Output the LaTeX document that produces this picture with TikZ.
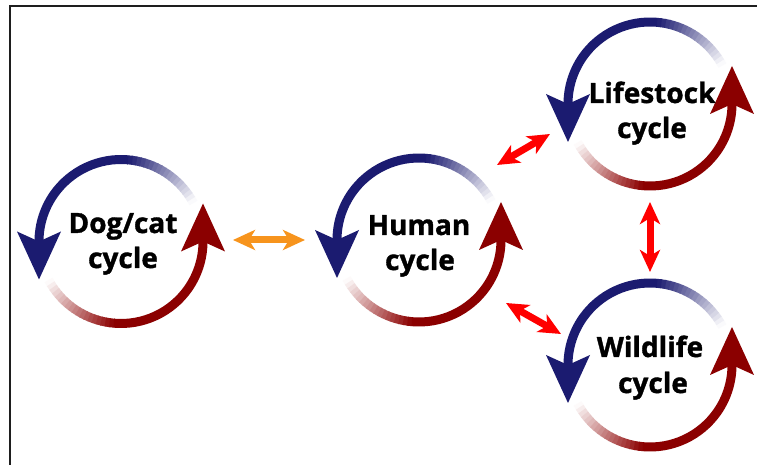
\documentclass[tikz,border=0pt]{standalone}
\usepackage{fontspec}
\setmainfont{Open Sans}[BoldFeatures={FakeBold=1.2}]
\usetikzlibrary{arrows.meta}
\definecolor{cblue}{RGB}{27,27,112}
\definecolor{cred}{RGB}{139,0,0}
\definecolor{corange}{RGB}{247,148,29}
\definecolor{cbright}{RGB}{255,0,0}
\definecolor{cborder}{RGB}{30,30,30}
\tikzset{
  ring/.style={line width=9pt, line cap=butt},
  lbl/.style={anchor=base, inner sep=0pt, font=\fontsize{28}{34}\selectfont\bfseries},
  dbl/.style={line width=7pt, {Stealth[length=22pt,width=20pt,inset=6pt]}-{Stealth[length=22pt,width=20pt,inset=6pt]}},
}
% #1,#2 centre, #3 colour, #4 start angle of the fade
\newcommand{\cyclearrow}[4]{%
  \foreach \k in {0,...,18}{%
    \pgfmathsetmacro{\sa}{#4+3*\k}%
    \pgfmathsetmacro{\ea}{#4+3*\k+3.6}%
    \pgfmathtruncatemacro{\pc}{100*(\k+0.5)/19}%
    \draw[ring, draw=#3!\pc!white, shift={(#1,#2)}] (\sa:82) arc[start angle=\sa, end angle=\ea, radius=82];
  }%
  \pgfmathsetmacro{\fa}{#4+57}%
  \pgfmathsetmacro{\fb}{#4+155}%
  \draw[ring, draw=#3, shift={(#1,#2)}] (\fa:82) arc[start angle=\fa, end angle=\fb, radius=82];
  \pgfmathsetmacro{\ha}{#4+152}%
  \fill[#3, shift={(#1,#2)}, rotate=\ha] (82,38) -- (104,-10) -- (82,0) -- (60,-10) -- cycle;
}
\begin{document}
\begin{tikzpicture}[x=1pt,y=1pt]
\useasboundingbox (0,0) rectangle (757,465);
\fill[white] (0,0) rectangle (757,465);
\draw[cborder, line width=2pt] (10,-2) -- (10,458.5) -- (760,458.5);

% centres
\coordinate (cdog) at (121,223.5);
\coordinate (chum) at (419,225);
\coordinate (clife) at (650,361);
\coordinate (cwild) at (650,100);

% cycles
\cyclearrow{121}{223.5}{cblue}{28}
\cyclearrow{121}{223.5}{cred}{208}
\cyclearrow{419}{225}{cblue}{28}
\cyclearrow{419}{225}{cred}{208}
\cyclearrow{650}{361}{cblue}{28}
\cyclearrow{650}{361}{cred}{208}
\cyclearrow{650}{100}{cblue}{28}
\cyclearrow{650}{100}{cred}{208}

% labels
\node[lbl] (dogA) at (123,232) {Dog/cat};
\node[lbl] (dogB) at (123,197) {cycle};
\node[lbl] (humA) at (419,230) {Human};
\node[lbl] (humB) at (420,195) {cycle};
\node[lbl] (lifeA) at (652,362) {Lifestock};
\node[lbl] (lifeB) at (652,327) {cycle};
\node[lbl] (wildA) at (650,108) {Wildlife};
\node[lbl] (wildB) at (653,72) {cycle};

% double arrows
\coordinate (o1) at (233,225);
\coordinate (o2) at (305,225);
\coordinate (r1a) at (497,300);
\coordinate (r1b) at (550,331);
\coordinate (r2a) at (506,162);
\coordinate (r2b) at (561,131);
\coordinate (r3a) at (650,263);
\coordinate (r3b) at (650,193);
\draw[dbl, corange] (o1) -- (o2);
\draw[dbl, cbright] (r1a) -- (r1b);
\draw[dbl, cbright] (r2a) -- (r2b);
\draw[dbl, cbright] (r3a) -- (r3b);
\end{tikzpicture}
\end{document}
